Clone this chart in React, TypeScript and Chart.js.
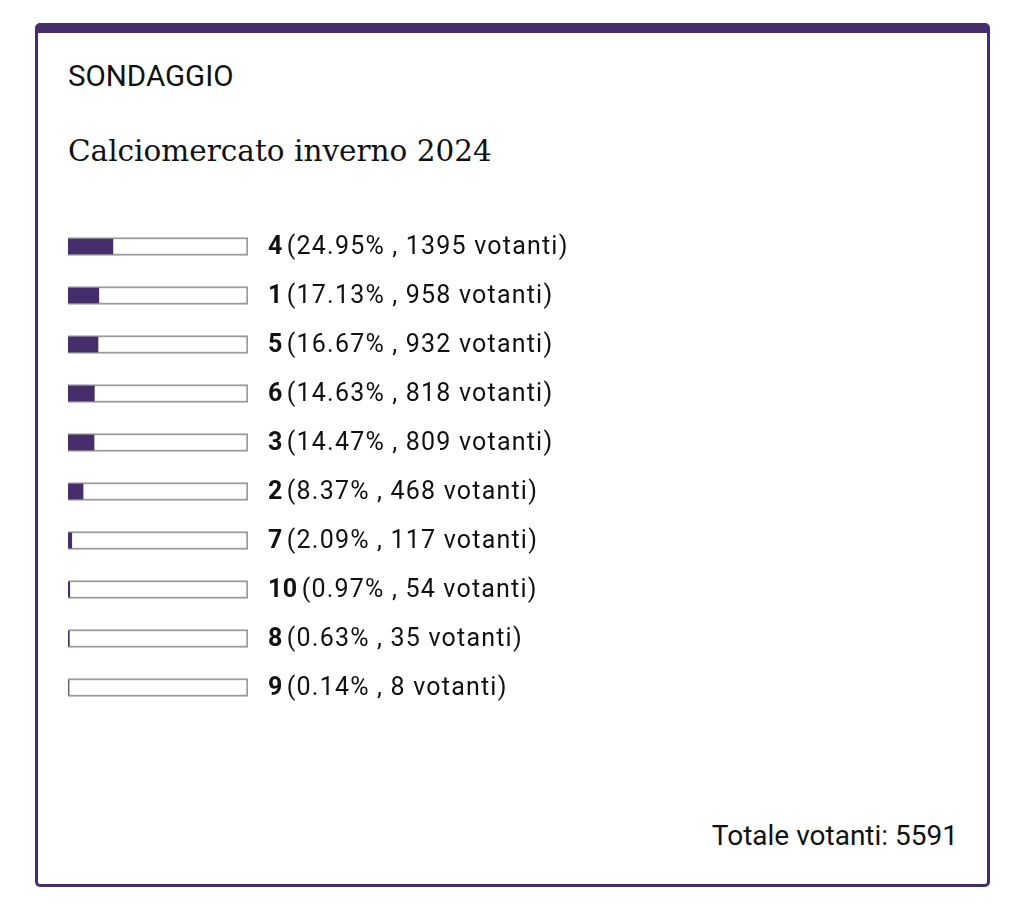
import React, { useEffect, useRef } from "react";
import { Chart, registerables } from "chart.js";

Chart.register(...registerables);

const options = ["4", "1", "5", "6", "3", "2", "7", "10", "8", "9"];
const percentages = [24.95, 17.13, 16.67, 14.63, 14.47, 8.37, 2.09, 0.97, 0.63, 0.14];
const voters = [1395, 958, 932, 818, 809, 468, 117, 54, 35, 8];
const trackValues = options.map(() => 100);
const totalVoters = 5591;

const PURPLE = "#452e6b";
const LABEL_FONT = "Roboto";

const labelPlugin = {
  id: "pollLabels",
  afterDatasetsDraw(chart: any) {
    const ctx = chart.ctx;
    const meta = chart.getDatasetMeta(0);
    const area = chart.chartArea;
    ctx.save();
    ctx.textBaseline = "middle";
    ctx.fillStyle = "#111";
    meta.data.forEach((el: any, i: number) => {
      const x = area.right + 20;
      const y = el.y + 1;
      (ctx as any).letterSpacing = "0.5px";
      ctx.font = `700 25px ${LABEL_FONT}`;
      ctx.fillText(options[i], x, y);
      const w = ctx.measureText(options[i]).width;
      (ctx as any).letterSpacing = "1.2px";
      ctx.font = `400 25px ${LABEL_FONT}`;
      ctx.fillText(`(${percentages[i].toFixed(2)}% , ${voters[i]} votanti)`, x + w + 4, y);
    });
    ctx.restore();
  },
};

function PollChart() {
  const ref = useRef<HTMLCanvasElement>(null);
  useEffect(() => {
    if (!ref.current) return;
    const chart = new Chart(ref.current, {
      type: "bar",
      data: {
        labels: options,
        datasets: [
          {
            label: "Percentuale",
            data: percentages,
            backgroundColor: PURPLE,
            borderWidth: 0,
            barThickness: 15,
            grouped: false,
            order: 0,
          } as any,
          {
            label: "Totale",
            data: trackValues,
            backgroundColor: "#ffffff",
            borderColor: "#9a9a9a",
            borderWidth: 2,
            borderSkipped: false,
            barThickness: 18,
            grouped: false,
            order: 1,
          } as any,
        ],
      },
      options: {
        indexAxis: "y",
        animation: false,
        responsive: false,
        maintainAspectRatio: false,
        layout: { padding: { left: 8, right: 412, top: 22, bottom: 28 } },
        plugins: { legend: { display: false }, tooltip: { enabled: false } },
        scales: {
          x: { display: false, min: 0, max: 100 },
          y: { display: false },
        },
      },
      plugins: [labelPlugin],
    });
    return () => chart.destroy();
  }, []);
  return (
    <canvas
      ref={ref}
      width={600}
      height={540}
      style={{ position: "absolute", left: 60, top: 200, width: 600, height: 540 }}
    />
  );
}

export default function App() {
  return (
    <div style={{ position: "absolute", left: 0, top: 0, width: 1024, height: 917, background: "#fff" }}>
      <div
        style={{
          position: "absolute",
          left: 35,
          top: 23,
          width: 955,
          height: 864,
          boxSizing: "border-box",
          borderStyle: "solid",
          borderColor: PURPLE,
          borderWidth: "10px 3px 3px 3px",
          borderRadius: 5,
        }}
      />
      <div
        style={{
          position: "absolute",
          left: 68,
          top: 58,
          fontFamily: "Roboto",
          fontSize: 29.5,
          lineHeight: "36px",
          color: "#111",
        }}
      >
        SONDAGGIO
      </div>
      <div
        style={{
          position: "absolute",
          left: 68,
          top: 131,
          fontFamily: "DejaVu Serif",
          fontSize: 29.5,
          lineHeight: "40px",
          color: "#111",
        }}
      >
        Calciomercato inverno 2024
      </div>
      <PollChart />
      <div
        style={{
          position: "absolute",
          right: 1024 - 958,
          top: 818,
          fontFamily: "Roboto",
          fontWeight: 400,
          fontSize: 28,
          lineHeight: "36px",
          color: "#111",
          whiteSpace: "nowrap",
        }}
      >
        Totale votanti: {totalVoters}
      </div>
    </div>
  );
}
